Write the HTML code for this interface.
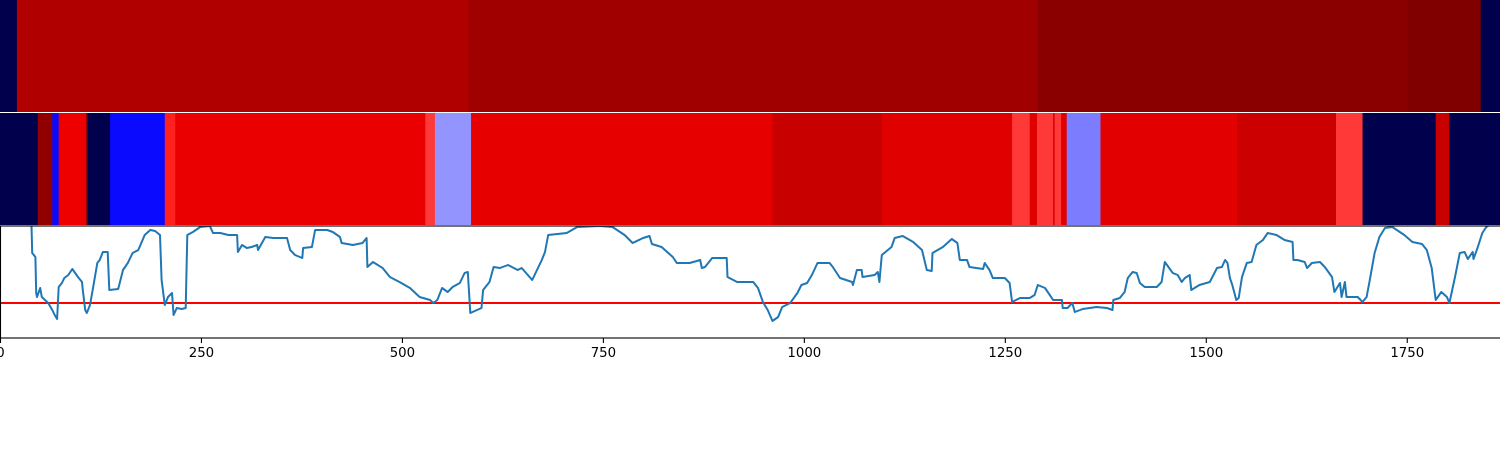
<!DOCTYPE html>
<html><head><meta charset="utf-8"><style>
html,body{margin:0;padding:0;background:#fff;width:1500px;height:450px;overflow:hidden}
svg{display:block}
text{font-family:"DejaVu Sans","Liberation Sans",sans-serif;font-size:13.3px}
</style></head><body>
<svg id="chart" width="1500" height="450" viewBox="0 0 1500 450" xmlns="http://www.w3.org/2000/svg">
<g id="top-row"></g>
<g id="mid-row"></g>
<g id="line-panel"></g>
<g id="x-axis"></g>
</svg>
<script>
const xMax = 1866;
const xTicks = [0, 250, 500, 750, 1000, 1250, 1500, 1750];
const xTickLabels = ["0", "250", "500", "750", "1000", "1250", "1500", "1750"];
const topStarts = [0, 21, 582, 1291, 1751, 1842];
const topEnds = [21, 582, 1291, 1751, 1842, 1866];
const topValues = [-1, 0.81, 0.873, 0.959, 1.0, -1];
const midStarts = [0, 47, 65, 73, 107, 109, 137, 205, 218, 529, 541, 586, 961, 1097, 1259, 1281, 1290, 1310, 1312, 1320, 1327, 1369, 1539, 1662, 1695, 1786, 1803];
const midEnds = [47, 65, 73, 107, 109, 137, 205, 218, 529, 541, 586, 961, 1097, 1259, 1281, 1290, 1310, 1312, 1320, 1327, 1369, 1539, 1662, 1695, 1786, 1803, 1866];
const midValues = [-1, 0.933, -0.48, 0.567, 0.933, -1, -0.48, 0.4375, 0.582, 0.39, -0.21, 0.598, 0.716, 0.622, 0.39, 0.622, 0.39, 0.622, 0.39, 0.622, -0.257, 0.61, 0.7, 0.39, -1, 0.716, -1];
const lineX = [30,39,40,44,45,46,50,52,60,65,68,71,73,77,80,85,90,97,102,103,106,108,112,116,121,124,128,134,136,147,153,159,165,172,180,187,193,199,201,205,209,214,216,220,226,231,233,240,249,261,265,274,284,295,296,301,307,313,320,321,330,340,348,357,361,367,376,377,388,392,407,414,423,425,439,451,456,457,464,476,485,497,510,522,535,539,544,550,557,563,572,578,582,585,599,601,609,614,622,632,644,649,662,668,674,678,682,705,718,746,762,777,787,800,808,811,823,837,842,858,871,873,877,886,904,905,917,937,943,949,955,961,968,973,983,992,997,1004,1010,1017,1032,1036,1045,1060,1061,1066,1072,1073,1088,1092,1094,1097,1109,1113,1123,1136,1147,1153,1159,1160,1173,1184,1191,1194,1203,1206,1223,1225,1231,1235,1250,1256,1259,1269,1281,1287,1291,1300,1306,1310,1321,1322,1328,1334,1337,1347,1364,1377,1384,1385,1393,1399,1403,1409,1414,1418,1424,1439,1445,1449,1459,1465,1470,1474,1480,1482,1492,1505,1514,1520,1524,1527,1530,1533,1538,1541,1545,1551,1557,1563,1571,1577,1588,1598,1608,1609,1614,1623,1626,1632,1642,1648,1657,1660,1667,1669,1673,1675,1689,1695,1700,1704,1710,1716,1723,1732,1747,1757,1769,1775,1781,1786,1793,1800,1803,1810,1816,1822,1826,1832,1833,1838,1844,1849,1853];
const lineY = [140,116,85,81,45,41,50,41,35,28,23,19,51,55,60,63,69,61,56,48,28,25,33,51,75,78,86,86,48,49,68,75,85,88,103,108,107,103,58,33,41,45,23,30,29,30,103,106,111,112,105,105,103,103,86,93,90,91,93,88,101,100,100,100,88,83,80,90,91,108,108,106,101,95,93,95,100,71,76,70,61,56,50,41,38,35,38,50,46,51,55,65,66,25,30,48,56,71,70,73,68,70,58,68,78,86,103,105,111,112,111,103,95,100,102,94,91,81,75,75,78,70,71,80,80,61,56,56,50,36,28,17,21,31,35,45,53,55,63,75,75,71,60,56,53,68,68,61,63,66,56,83,91,100,102,96,88,68,67,85,91,99,95,78,78,71,69,75,68,60,60,55,36,40,40,43,53,50,43,38,38,30,30,35,26,29,31,30,28,38,40,46,60,66,65,55,51,51,56,76,65,63,56,60,63,48,53,56,70,71,78,75,60,53,38,40,61,75,76,93,98,105,103,98,96,78,78,76,70,75,76,71,61,46,55,41,56,41,41,36,41,58,85,101,110,111,103,96,94,88,70,38,46,41,35,61,85,86,79,86,79,90,105,111,113];
const threshold = 35;
const yMin = 0, yMax = 112;

const NS = "http://www.w3.org/2000/svg";
const W = 1500;
const xs = v => v / xMax * W;
const PT = 226, PB = 338;
const ys = v => PB - (v - yMin) / (yMax - yMin) * (PB - PT);
function seismic(v){
  let r,g,b;
  if (v <= -0.5){ const t=(v+1)/0.5; r=0; g=0; b=0.3+0.7*t; }
  else if (v <= 0){ const t=(v+0.5)/0.5; r=t; g=t; b=1; }
  else if (v <= 0.5){ const t=v/0.5; r=1; g=1-t; b=1-t; }
  else { const t=(v-0.5)/0.5; r=1-0.5*t; g=0; b=0; }
  return `rgb(${Math.round(r*255)},${Math.round(g*255)},${Math.round(b*255)})`;
}
function mk(tag, attrs, parent){ const e=document.createElementNS(NS,tag); for(const k in attrs) e.setAttribute(k,attrs[k]); parent.appendChild(e); return e; }

const topG = document.getElementById('top-row');
topStarts.forEach((s,i)=>{
  const r = mk('rect',{x:xs(s),y:0,width:xs(topEnds[i])-xs(s)+0.5,height:112,fill:seismic(topValues[i])},topG);
  
  
});
const midG = document.getElementById('mid-row');
midStarts.forEach((s,i)=>{
  const r = mk('rect',{x:xs(s),y:113,width:xs(midEnds[i])-xs(s)+0.5,height:112,fill:seismic(midValues[i])},midG);
  
  
});

const lp = document.getElementById('line-panel');
const defs = mk('defs',{},lp);
const cp = mk('clipPath',{id:'clip'},defs);
mk('rect',{x:0,y:PT,width:W,height:PB-PT},cp);
const th = mk('line',{x1:0,x2:W,y1:ys(threshold),y2:ys(threshold),stroke:'#ff0000','stroke-width':2,'clip-path':'url(#clip)'},lp);


const d = lineX.map((x,i)=>(i?'L':'M')+xs(x).toFixed(1)+','+ys(lineY[i]).toFixed(1)).join('');
const path = mk('path',{d:d,fill:'none',stroke:'#1f77b4','stroke-width':2,'stroke-linejoin':'round','clip-path':'url(#clip)'},lp);


const frame = mk('rect',{x:0.5,y:PT,width:W+2,height:PB-PT,fill:'none',stroke:'#000','stroke-width':1.1},lp);



const ax = document.getElementById('x-axis');
xTicks.forEach((t,i)=>{
  const tk = mk('line',{x1:xs(t)+0.5,x2:xs(t)+0.5,y1:PB,y2:PB+5,stroke:'#000','stroke-width':1.1},ax);
  
  
  const lb = mk('text',{x:xs(t)+0.5,y:PB+19,'text-anchor':'middle',fill:'#000'},ax);
  lb.textContent = xTickLabels[i];
  
  
});
</script>
</body></html>
